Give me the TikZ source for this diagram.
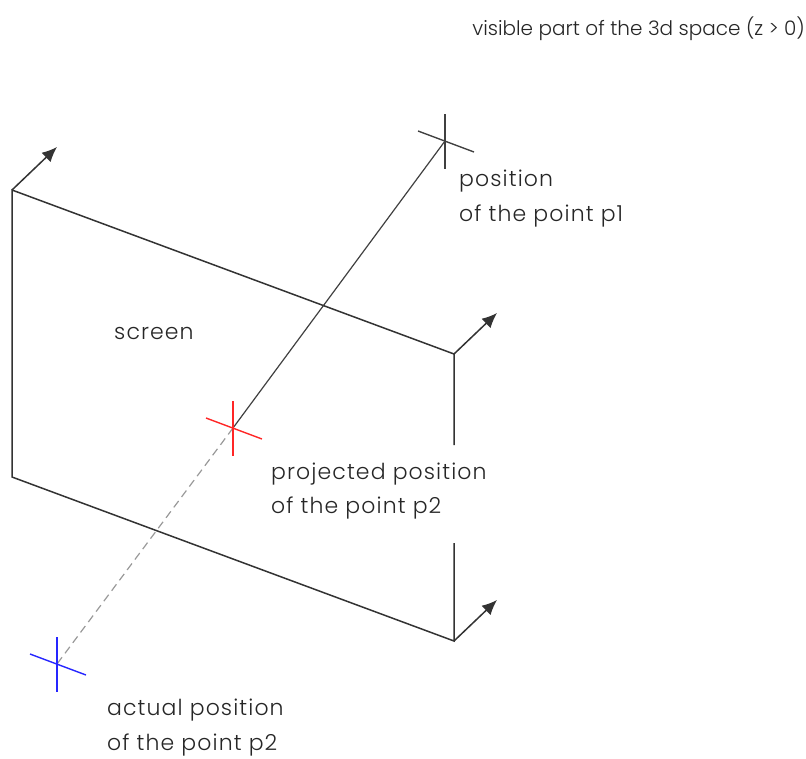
\documentclass[tikz,border=0pt]{standalone}
\usepackage{fontspec}
\setmainfont{Poppins}[UprightFont=* Light]
\newfontfamily\lblfont{Poppins}[UprightFont=* Light, LetterSpace=5]
\usetikzlibrary{arrows.meta}
\begin{document}
\begin{tikzpicture}[x=1pt,y=-1pt,
  edge/.style={line width=1.5pt, draw=black!80},
  vec/.style={edge, -{Latex[length=15pt,width=13pt]}},
  ray/.style={line width=1.2pt, draw=black!75},
  hidden/.style={line width=1.2pt, draw=black!40, dash pattern=on 8pt off 5pt},
  lbl/.style={font=\lblfont\fontsize{22}{34}\selectfont, text=black!85, inner sep=0pt},
  toplbl/.style={font=\fontsize{20}{30}\selectfont, text=black!85, inner sep=0pt}]
\useasboundingbox (0,0) rectangle (806,758);
% screen corners
\coordinate (TL) at (12,190);
\coordinate (TR) at (454,354);
\coordinate (BR) at (454,641);
\coordinate (BL) at (12,477);
\coordinate (gapT) at (454,445);
\coordinate (gapB) at (454,543);
\draw[edge] (gapT) -- (TR) -- (TL) -- (BL) -- (BR) -- (gapB);
% normal vectors
\coordinate (nTL) at (57,147);
\coordinate (nTR) at (497,313);
\coordinate (nBR) at (497,600);
\draw[vec] (TL) -- (nTL);
\draw[vec] (TR) -- (nTR);
\draw[vec] (BR) -- (nBR);
% points
\coordinate (P1) at (445,141);
\coordinate (P2) at (233,428);
\coordinate (A2) at (57,664);
\draw[ray] (P1) -- (P2);
\draw[hidden] (P2) -- (A2);
% crosses
\foreach \p/\c in {P1/black!75, P2/red!85, A2/blue!85}{
  \draw[line width=1.4pt, draw=\c] ([shift={(0,-27)}]\p) -- ([shift={(0,28)}]\p);
  \draw[line width=1.4pt, draw=\c] ([shift={(-27,-10)}]\p) -- ([shift={(29,11)}]\p);
}
% labels
\node[toplbl, anchor=base east] (top) at (805,35) {visible part of the 3d space (z > 0)};
\node[lbl, anchor=base west] (p1a) at (459,186) {position};
\node[lbl, anchor=base west] (p1b) at (459,221) {of the point p1};
\node[lbl, anchor=base west] (scr) at (114,339) {screen};
\node[lbl, anchor=base west] (p2a) at (271,479) {projected position};
\node[lbl, anchor=base west] (p2b) at (271,513) {of the point p2};
\node[lbl, anchor=base west] (a2a) at (107,715) {actual position};
\node[lbl, anchor=base west] (a2b) at (107,750) {of the point p2};
\end{tikzpicture}
\end{document}
